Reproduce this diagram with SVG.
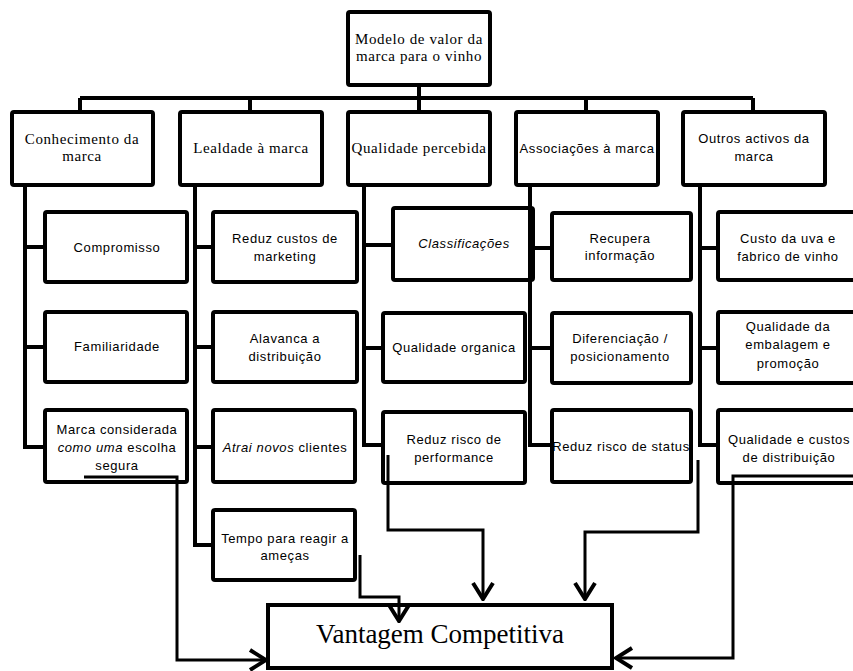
<svg xmlns="http://www.w3.org/2000/svg" width="853" height="671" viewBox="0 0 853 671">
<defs>
<style>
.box{fill:#fff;stroke:#000;stroke-width:4}
.ln{fill:none;stroke:#000;stroke-width:4}
.ar{fill:none;stroke:#000;stroke-width:3}
.serif{font-family:"Liberation Serif","Times New Roman",serif;font-size:15px;letter-spacing:0.6px}
.sans{font-family:"Liberation Sans",Arial,sans-serif;font-size:13px;letter-spacing:0.6px}
.big{font-family:"Liberation Serif","Times New Roman",serif;font-size:27px}
text{text-anchor:middle;fill:#000}
.it{font-style:italic}
</style>
<marker id="arr" viewBox="0 0 20 24" markerWidth="20" markerHeight="24" refX="18" refY="12" orient="auto" markerUnits="userSpaceOnUse">
<path d="M2,2 L18,12 L2,22" fill="none" stroke="#000" stroke-width="4"/>
</marker>
</defs>
<rect width="853" height="671" fill="#fff"/>

<g id="root"><rect class="box" x="348" y="12" width="142" height="73" rx="2"/>
<text class="serif" x="419" y="44">Modelo de valor da</text>
<text class="serif" x="419" y="61">marca para o vinho</text></g>

<g id="conhecimento"><rect class="box" x="12" y="112" width="141" height="73" rx="2"/>
<text class="serif" x="82" y="144">Conhecimento da</text>
<text class="serif" x="82" y="161">marca</text></g>
<g id="lealdade"><rect class="box" x="180" y="112" width="142" height="73" rx="2"/>
<text class="serif" x="251" y="153">Lealdade à marca</text></g>
<g id="qualidade"><rect class="box" x="348" y="112" width="142" height="73" rx="2"/>
<text class="serif" x="419" y="153">Qualidade percebida</text></g>
<g id="associacoes"><rect class="box" x="516" y="112" width="142" height="73" rx="2"/>
<text class="sans" x="587" y="153">Associações à marca</text></g>
<g id="outros"><rect class="box" x="683" y="112" width="142" height="73" rx="2"/>
<text class="sans" x="754" y="143">Outros activos da</text>
<text class="sans" x="754" y="161">marca</text></g>

<g id="compromisso"><rect class="box" x="45" y="212" width="142" height="70" rx="2"/>
<text class="sans" x="117" y="252">Compromisso</text></g>
<g id="familiaridade"><rect class="box" x="45" y="312" width="142" height="70" rx="2"/>
<text class="sans" x="117" y="351">Familiaridade</text></g>
<g id="marca-segura"><rect class="box" x="45" y="410" width="142" height="72" rx="2"/>
<text class="sans" x="117" y="434">Marca considerada</text>
<text class="sans" x="117" y="452"><tspan class="it">como uma</tspan> escolha</text>
<text class="sans" x="117" y="470">segura</text></g>

<g id="reduz-custos"><rect class="box" x="213" y="212" width="144" height="70" rx="2"/>
<text class="sans" x="285" y="243">Reduz custos de</text>
<text class="sans" x="285" y="261">marketing</text></g>
<g id="alavanca"><rect class="box" x="213" y="312" width="144" height="70" rx="2"/>
<text class="sans" x="285" y="343">Alavanca a</text>
<text class="sans" x="285" y="361">distribuição</text></g>
<g id="atrai"><rect class="box" x="213" y="410" width="142" height="72" rx="2"/>
<text class="sans" x="285" y="452"><tspan class="it">Atrai novos</tspan> clientes</text></g>
<g id="tempo"><rect class="box" x="213" y="510" width="142" height="70" rx="2"/>
<text class="sans" x="285" y="543">Tempo para reagir a</text>
<text class="sans" x="285" y="560">ameças</text></g>

<g id="classificacoes"><rect class="box" x="393" y="208" width="140" height="72" rx="2"/>
<text class="sans it" x="464" y="248">Classificações</text></g>
<g id="organica"><rect class="box" x="383" y="313" width="142" height="69" rx="2"/>
<text class="sans" x="454" y="352">Qualidade organica</text></g>
<g id="risco-performance"><rect class="box" x="383" y="412" width="142" height="71" rx="2"/>
<text class="sans" x="454" y="444">Reduz risco de</text>
<text class="sans" x="454" y="462">performance</text></g>

<g id="recupera"><rect class="box" x="552" y="213" width="139" height="67" rx="2"/>
<text class="sans" x="620" y="243">Recupera</text>
<text class="sans" x="620" y="260">informação</text></g>
<g id="diferenciacao"><rect class="box" x="552" y="313" width="139" height="70" rx="2"/>
<text class="sans" x="620" y="343">Diferenciação /</text>
<text class="sans" x="620" y="361">posicionamento</text></g>
<g id="risco-status"><rect class="box" x="552" y="410" width="139" height="72" rx="2"/>
<text class="sans" x="621" y="451">Reduz risco de status</text></g>

<g id="custo-uva"><rect class="box" x="718" y="212" width="145" height="68" rx="2"/>
<text class="sans" x="788" y="243">Custo da uva e</text>
<text class="sans" x="788" y="261">fabrico de vinho</text></g>
<g id="embalagem"><rect class="box" x="718" y="312" width="145" height="71" rx="2"/>
<text class="sans" x="788" y="331">Qualidade da</text>
<text class="sans" x="788" y="349">embalagem e</text>
<text class="sans" x="788" y="368">promoção</text></g>
<g id="distribuicao"><rect class="box" x="718" y="410" width="145" height="73" rx="2"/>
<text class="sans" x="789" y="444">Qualidade e custos</text>
<text class="sans" x="789" y="462">de distribuição</text></g>

<g id="vantagem"><rect class="box" x="268" y="605" width="344" height="63"/>
<text class="big" x="440" y="643">Vantagem Competitiva</text></g>

<g id="connectors">
<path class="ln" d="M419,85 V98 M80,98 H753 M80,98 V112 M250,98 V112 M419,98 V112 M586,98 V112 M753,98 V112"/>
<path class="ln" d="M25,185 V447 H45 M25,247 H45 M25,347 H45"/>
<path class="ln" d="M195,185 V545 H213 M195,247 H213 M195,347 H213 M195,447 H213"/>
<path class="ln" d="M364,185 V445 H383 M364,245 H393 M364,348 H383"/>
<path class="ln" d="M530,185 V445 H552 M530,248 H552 M530,348 H552"/>
<path class="ln" d="M700,185 V445 H718 M700,248 H718 M700,348 H718"/>
<path class="ar" d="M84,477 H177 V660 H266" marker-end="url(#arr)"/>
<path class="ar" d="M360,555 V597 H399 V621" marker-end="url(#arr)"/>
<path class="ar" d="M388,455 V530 H483 V599" marker-end="url(#arr)"/>
<path class="ar" d="M698,460 V532 H585 V599" marker-end="url(#arr)"/>
<path class="ar" d="M853,476 H733 V658 H616" marker-end="url(#arr)"/>
</g>
</svg>
